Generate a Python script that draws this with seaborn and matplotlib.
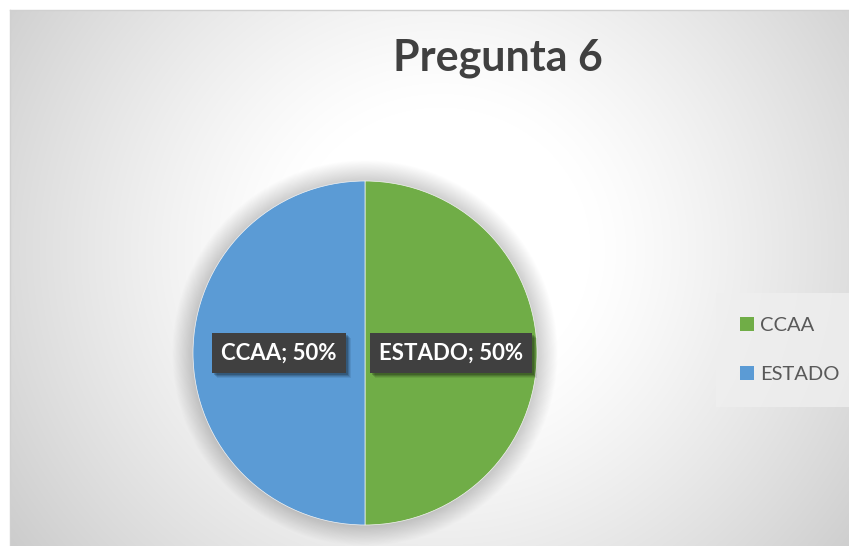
import numpy as np
import matplotlib
matplotlib.use("Agg")
import matplotlib.pyplot as plt
import seaborn as sns
from matplotlib.patches import Circle, Patch, Rectangle
from matplotlib.transforms import IdentityTransform

# Data
categories = ["CCAA", "ESTADO"]
values = [50, 50]
data_labels = ["ESTADO; 50%", "CCAA; 50%"]
title = "Pregunta 6"

colors = ["#70AD47", "#5B9BD5"]

sns.set_theme(style="white")
plt.rcParams["font.family"] = ["Lato", "DejaVu Sans"]

W, H = 849, 546
fig = plt.figure(figsize=(W / 100, H / 100), dpi=100)
fig.patch.set_facecolor("white")

# radial gradient background of the chart area
bg = fig.add_axes([10 / W, 0, (W - 10) / W, (H - 10) / H], zorder=0)
yy, xx = np.mgrid[0:H - 10, 0:W - 10]
d = np.hypot(xx - 430, (yy - 240) * 1.05)
t = np.clip((d - 150) / 380, 0, 1)
v = 1.0 - 0.2 * t ** 1.2
bg.imshow(np.dstack([v, v, v]), aspect="auto", interpolation="bilinear")
bg.set_xticks([])
bg.set_yticks([])
for side in ["right", "bottom"]:
    bg.spines[side].set_visible(False)
for side in ["top", "left"]:
    bg.spines[side].set_color("#d0d0d0")
    bg.spines[side].set_linewidth(1)

# pie
cx, cy, r = 365, H - 353, 172
ax = fig.add_axes([(cx - r) / W, (cy - r) / H, 2 * r / W, 2 * r / H], zorder=2)
ax.set_facecolor("none")

# soft halo around the pie
for i in range(1, 25):
    ax.add_patch(Circle((0, 0), 1 + i * 0.005, color="black", alpha=0.008,
                        zorder=0, clip_on=False, lw=0))

wedges, texts, autotexts = ax.pie(
    values, colors=colors, startangle=90, counterclock=False,
    autopct="%1.0f%%", pctdistance=0.5,
    wedgeprops=dict(linewidth=0.5, edgecolor="#f4f4f4"),
)
for w in wedges:
    w.set_zorder(2)
for at, lab in zip(autotexts, data_labels):
    at.set_text(lab)
    at.set_color("white")
    at.set_fontsize(16)
    at.set_fontweight("bold")
    at.set_zorder(5)
    at.set_bbox(dict(boxstyle="square,pad=0.42", facecolor="#404040",
                     edgecolor="none"))
ax.set_xlim(-1, 1)
ax.set_ylim(-1, 1)
ax.set_aspect("auto")
ax.axis("off")

# shadows behind the label boxes
fig.canvas.draw()
for at in autotexts:
    bb = at.get_bbox_patch().get_window_extent()
    for k, a in [(5, 0.08), (4, 0.1), (3, 0.14), (2, 0.18)]:
        ax.add_patch(Rectangle((bb.x0 + k, bb.y0 - k), bb.width, bb.height,
                               transform=IdentityTransform(), facecolor="black",
                               alpha=a, edgecolor="none", zorder=3,
                               clip_on=False))

# title
fig.text(498 / W, 1 - 58 / H, title, ha="center", va="center",
         fontsize=31, fontweight="bold", color="#404040", zorder=3)

# legend
handles = [Patch(facecolor=c, edgecolor="none") for c in colors]
leg = fig.legend(handles, categories, loc="center left",
                 bbox_to_anchor=(722 / W, 1 - 350 / H), frameon=True,
                 fontsize=14.5, labelspacing=1.55, handlelength=0.7,
                 handleheight=0.7, handletextpad=0.3, borderpad=0.9,
                 borderaxespad=0)
leg.get_frame().set_facecolor("#efefef")
leg.get_frame().set_edgecolor("none")
leg.get_frame().set_alpha(0.8)
leg.get_frame().set_boxstyle("square")
for txt in leg.get_texts():
    txt.set_color("#595959")
leg.set_zorder(3)

fig.savefig("out.png", dpi=100)
